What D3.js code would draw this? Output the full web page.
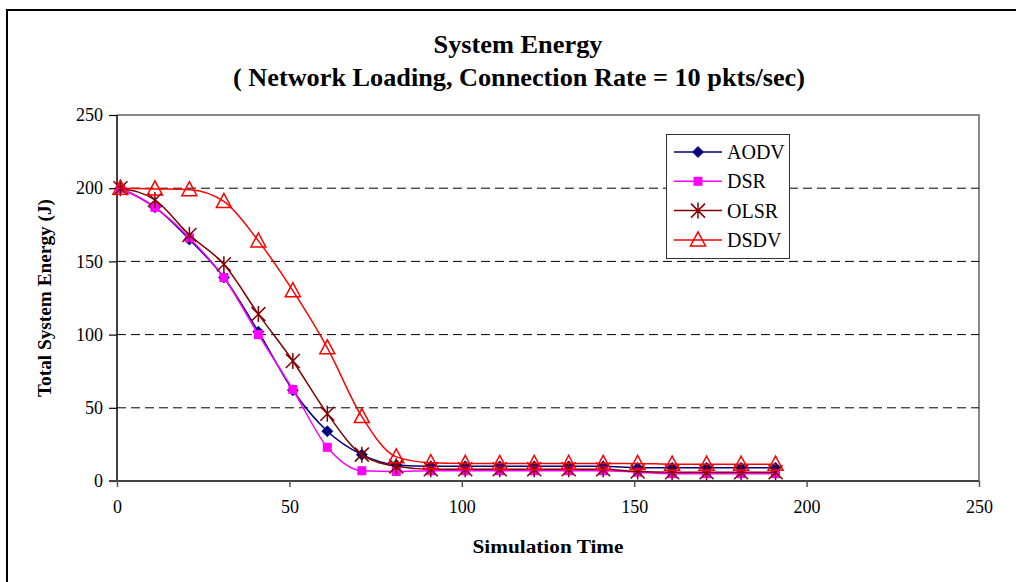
<!DOCTYPE html>
<html>
<head>
<meta charset="utf-8">
<script src="https://cdn.jsdelivr.net/npm/d3@7"></script>
<style>
  html, body { margin: 0; padding: 0; background: #fff; }
  svg { display: block; }
  svg text { font-family: "Liberation Serif", "Times New Roman", serif; fill: #000; }
</style>
</head>
<body>
<svg id="chart" width="1016" height="582"></svg>
<script>
// Simulation time samples (s)
const times = [1, 11, 21, 31, 41, 51, 61, 71, 81, 91, 101, 111, 121, 131, 141, 151, 161, 171, 181, 191];

// Total system energy (J) per routing protocol
const aodv = [200, 187, 165, 139, 102, 62, 34, 18, 11, 10, 10, 10, 10, 10, 10, 9, 9, 9, 9, 9];
const dsr  = [200, 187, 166, 139, 100, 62.5, 23, 7, 6.5, 7, 7, 7, 7, 7, 7, 6, 5, 5, 5, 5];
const olsr = [200, 192, 168, 148, 114, 82, 46, 18, 10, 8, 8, 8, 8, 8, 8, 6.5, 6, 6, 6, 6];
const dsdv = [200, 199.5, 199, 191, 164, 130, 91, 44, 16.5, 12.5, 12, 12, 12, 12, 12, 12, 11.5, 11.5, 11.5, 11.5];

const seriesNames = ["AODV", "DSR", "OLSR", "DSDV"];
const xTicks = [0, 50, 100, 150, 200, 250];
const yTicks = [0, 50, 100, 150, 200, 250];
const gridValues = [50, 100, 150, 200];

const titleLine1 = "System Energy";
const titleLine2 = "( Network Loading, Connection Rate = 10 pkts/sec)";
const xTitle = "Simulation Time";
const yTitle = "Total System Energy (J)";

const styles = {
  AODV: { color: "#000080", marker: "diamond" },
  DSR:  { color: "#ff00ff", marker: "square" },
  OLSR: { color: "#800000", marker: "star" },
  DSDV: { color: "#ff0000", marker: "triangle" }
};
const seriesValues = { AODV: aodv, DSR: dsr, OLSR: olsr, DSDV: dsdv };

const SERIF = "Liberation Serif, Times New Roman, serif";
const svg = d3.select("#chart");
const plot = { left: 117, right: 979, top: 115, bottom: 481 };

const x = d3.scaleLinear().domain([0, 250]).range([plot.left, plot.right]);
const y = d3.scaleLinear().domain([0, 250]).range([plot.bottom, plot.top]);

// Outer chart frame (runs off the right and bottom edges)
svg.append("path")
  .attr("d", "M7,600 L7,10 L1030,10")
  .attr("fill", "none").attr("stroke", "#000").attr("stroke-width", 2);

// Titles
svg.append("text").attr("x", 518).attr("y", 53)
  .attr("text-anchor", "middle").attr("font-weight", "bold").attr("font-size", 25)
  .attr("textLength", 169).attr("lengthAdjust", "spacingAndGlyphs")
  .text(titleLine1);
svg.append("text").attr("x", 519).attr("y", 86)
  .attr("text-anchor", "middle").attr("font-weight", "bold").attr("font-size", 25)
  .attr("textLength", 572).attr("lengthAdjust", "spacingAndGlyphs")
  .text(titleLine2);

// Plot area border: grey top and right
svg.append("path")
  .attr("d", `M${plot.left},${plot.top} L${plot.right},${plot.top} L${plot.right},${plot.bottom}`)
  .attr("fill", "none").attr("stroke", "#888").attr("stroke-width", 2);

// Dashed gridlines
svg.append("g").selectAll("line").data(gridValues).join("line")
  .attr("x1", plot.left).attr("x2", plot.right)
  .attr("y1", d => y(d)).attr("y2", d => y(d))
  .attr("stroke", "#000").attr("stroke-width", 1)
  .attr("stroke-dasharray", "9,5");

// Axes
const yAxis = d3.axisLeft(y).tickValues(yTicks).tickSize(8).tickPadding(6).tickFormat(d3.format("d"));
const gy = svg.append("g").attr("transform", `translate(${plot.left},0)`).call(yAxis);
gy.select(".domain").attr("stroke", "#000").attr("stroke-width", 1.5).attr("d", `M0,${plot.top}V${plot.bottom}`);
gy.selectAll(".tick line").attr("stroke", "#000").attr("stroke-width", 1.2);
gy.selectAll(".tick text").attr("font-size", 18).attr("font-family", SERIF).attr("fill", "#000");

const xAxis = d3.axisBottom(x).tickValues(xTicks).tickSize(6).tickPadding(13).tickFormat(d3.format("d"));
const gx = svg.append("g").attr("transform", `translate(0,${plot.bottom})`).call(xAxis);
gx.select(".domain").attr("stroke", "#444").attr("stroke-width", 2.2).attr("d", `M${plot.left - 8},0H${plot.right}`);
gx.selectAll(".tick line").attr("stroke", "#555").attr("stroke-width", 1.5);
gx.selectAll(".tick text").attr("font-size", 18).attr("font-family", SERIF).attr("fill", "#000");

// Axis titles
svg.append("text").attr("x", 548).attr("y", 553)
  .attr("text-anchor", "middle").attr("font-weight", "bold").attr("font-size", 18)
  .attr("textLength", 151).attr("lengthAdjust", "spacingAndGlyphs")
  .text(xTitle);
svg.append("text").attr("transform", "translate(51,298) rotate(-90)")
  .attr("text-anchor", "middle").attr("font-weight", "bold").attr("font-size", 18)
  .attr("textLength", 198).attr("lengthAdjust", "spacingAndGlyphs")
  .text(yTitle);

// Marker drawing
function drawMarker(g, type, color) {
  if (type === "diamond") {
    g.append("path").attr("d", "M0,-5.5 L5.5,0 L0,5.5 L-5.5,0 Z").attr("fill", color).attr("stroke", color).attr("stroke-width", 0.8);
  } else if (type === "square") {
    g.append("rect").attr("x", -4.5).attr("y", -4.5).attr("width", 9).attr("height", 9).attr("fill", color);
  } else if (type === "star") {
    g.append("path").attr("d", "M-7,-7 L7,7 M-7,7 L7,-7 M0,-8 L0,8")
      .attr("fill", "none").attr("stroke", color).attr("stroke-width", 1.5);
  } else if (type === "triangle") {
    g.append("path").attr("d", "M0,-8 L7.5,6 L-7.5,6 Z")
      .attr("fill", "none").attr("stroke", color).attr("stroke-width", 1.5);
  }
}

// Series lines and markers
const line = d3.line().x(d => x(d[0])).y(d => y(d[1])).curve(d3.curveMonotoneX);

seriesNames.forEach(name => {
  const st = styles[name];
  const pts = times.map((t, i) => [t, seriesValues[name][i]]);
  svg.append("path").datum(pts).attr("d", line)
    .attr("fill", "none").attr("stroke", st.color).attr("stroke-width", 1.5);
  const mg = svg.append("g");
  pts.forEach(p => {
    const g = mg.append("g").attr("transform", `translate(${x(p[0])},${y(p[1])})`);
    drawMarker(g, st.marker, st.color);
  });
});

// Legend
const legend = svg.append("g");
legend.append("rect").attr("x", 666.5).attr("y", 134.5).attr("width", 123).attr("height", 124)
  .attr("fill", "#fff").attr("stroke", "#333").attr("stroke-width", 1);
seriesNames.forEach((name, i) => {
  const st = styles[name];
  const cy = 152 + i * 29.3;
  legend.append("line").attr("x1", 674).attr("x2", 722).attr("y1", cy).attr("y2", cy)
    .attr("stroke", st.color).attr("stroke-width", 1.5);
  const g = legend.append("g").attr("transform", `translate(698,${cy})`);
  drawMarker(g, st.marker, st.color);
  legend.append("text").attr("x", 727).attr("y", cy + 7).attr("font-size", 20)
    .attr("font-family", SERIF).text(name);
});
</script>
</body>
</html>
